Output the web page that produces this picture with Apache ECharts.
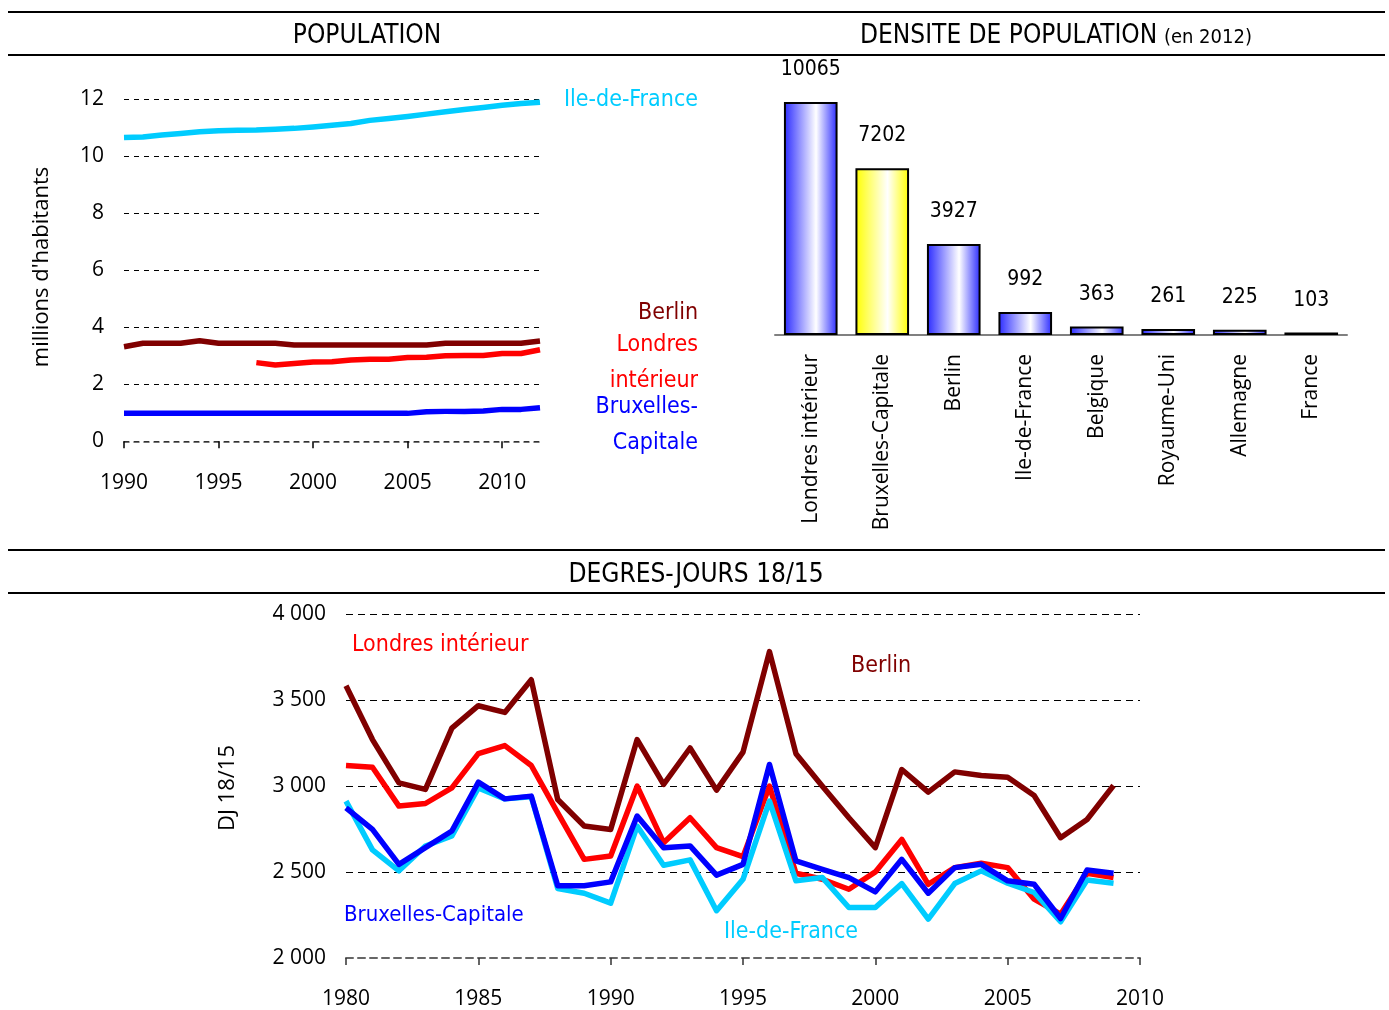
<!DOCTYPE html>
<html><head><meta charset="utf-8">
<script src="https://cdn.jsdelivr.net/npm/echarts@6/dist/echarts.min.js"></script>
<style>html,body{margin:0;padding:0;background:#fff}#c{width:1389px;height:1010px}</style>
</head><body><div id="c"></div>
<script>
// ---------- DATA ----------
const popYears = [1990,1991,1992,1993,1994,1995,1996,1997,1998,1999,2000,2001,2002,2003,2004,2005,2006,2007,2008,2009,2010,2011,2012];
const popIleDeFrance = [10.66,10.68,10.75,10.80,10.86,10.90,10.91,10.92,10.95,10.98,11.03,11.09,11.15,11.26,11.33,11.40,11.48,11.56,11.64,11.71,11.79,11.85,11.90];
const popBerlin      = [3.32,3.44,3.44,3.44,3.53,3.44,3.44,3.44,3.44,3.38,3.38,3.38,3.38,3.38,3.38,3.38,3.38,3.44,3.44,3.44,3.44,3.44,3.52];
const popLondres     = [null,null,null,null,null,null,null,2.76,2.68,2.73,2.78,2.79,2.85,2.88,2.88,2.94,2.95,3.00,3.01,3.01,3.08,3.08,3.21];
const popBruxelles   = [0.98,0.98,0.98,0.98,0.98,0.98,0.98,0.98,0.98,0.98,0.98,0.98,0.98,0.98,0.98,0.98,1.04,1.05,1.05,1.06,1.12,1.12,1.18];
const popTickYears = [1990,1995,2000,2005,2010];

const densCategories = ['Londres intérieur','Bruxelles-Capitale','Berlin','Ile-de-France','Belgique','Royaume-Uni','Allemagne','France'];
const densValues = [10065,7202,3927,992,363,261,225,103];

const djYears = [1980,1981,1982,1983,1984,1985,1986,1987,1988,1989,1990,1991,1992,1993,1994,1995,1996,1997,1998,1999,2000,2001,2002,2003,2004,2005,2006,2007,2008,2009];
const djBerlin      = [3584,3271,3019,2981,3338,3468,3429,3619,2922,2768,2748,3271,3010,3222,2977,3198,3783,3189,3000,2816,2642,3097,2965,3083,3062,3052,2946,2700,2806,3004];
const djLondres     = [3120,3110,2884,2899,2990,3189,3236,3120,2845,2574,2594,3000,2671,2816,2642,2590,3000,2493,2458,2400,2501,2690,2429,2526,2551,2526,2342,2255,2493,2468];
const djBruxelles   = [2874,2748,2545,2642,2739,3023,2926,2942,2420,2420,2443,2826,2642,2652,2482,2545,3126,2565,2516,2468,2385,2574,2377,2526,2545,2449,2429,2230,2512,2493];
const djIleDeFrance = [2913,2629,2507,2652,2710,2990,2926,2938,2404,2377,2319,2768,2540,2571,2275,2458,2913,2449,2468,2294,2294,2433,2226,2433,2507,2435,2381,2211,2454,2435];

// ---------- STYLE ----------
const FA = '"Open Sans","DejaVu Sans",sans-serif';
const FT = '"DejaVu Sans Condensed","DejaVu Sans",sans-serif';
const C_IDF = '#00CCFF', C_BER = '#800000', C_LON = '#FF0000', C_BRU = '#0000FF';

const pairs = (xs, ys) => xs.map((x, i) => [x, ys[i]]);
const lineSeries = (name, xIdx, data, color) => ({
  name, type: 'line', xAxisIndex: xIdx, yAxisIndex: xIdx, data, symbol: 'none',
  lineStyle: { color, width: 5.5, join: 'round' }, itemStyle: { color }, silent: true, z: 3
});
const grad = (c) => new echarts.graphic.LinearGradient(0, 0, 1, 0, [
  { offset: 0, color: c }, { offset: 0.6, color: '#ffffff' }, { offset: 1, color: c }
]);

const chart = echarts.init(document.getElementById('c'), null, { renderer: 'canvas' });

const hline = (y) => ({ type: 'line', shape: { x1: 8, y1: y, x2: 1385, y2: y }, style: { stroke: '#000', lineWidth: 2 } });
const txt = (x, y, text, color, align, size, font) => ({
  type: 'text', x, y, style: { text, fill: color, font: (size || 20) + 'px ' + (font || FT), align: align || 'left', verticalAlign: 'middle' }
});
const plain = v => String(v);

const option = {
  animation: false,
  backgroundColor: '#fff',
  grid: [
    { left: 124, top: 99.3, width: 416, height: 342 },
    { left: 775, top: 102, width: 572, height: 233 },
    { left: 346, top: 614.3, width: 794, height: 344.7 }
  ],
  xAxis: [
    { gridIndex: 0, type: 'value', min: 1990, max: 2012, interval: 5,
      axisLine: { show: true, lineStyle: { color: '#444', width: 1.5, type: [5, 5] } },
      axisTick: { show: true, length: 7, customValues: popTickYears, lineStyle: { color: '#000', width: 1.5 } },
      axisLabel: { customValues: popTickYears, formatter: plain, margin: 31, fontSize: 21, fontFamily: FA, color: '#000' },
      splitLine: { show: false } },
    { gridIndex: 1, type: 'category', data: densCategories,
      axisLine: { show: true, lineStyle: { color: '#808080', width: 2 } },
      axisTick: { show: false },
      axisLabel: { rotate: 90, margin: 19, fontSize: 21, fontFamily: FA, color: '#000', interval: 0 } },
    { gridIndex: 2, type: 'value', min: 1980, max: 2010, interval: 5,
      axisLine: { show: true, lineStyle: { color: '#666', width: 2, type: [7, 5] } },
      axisTick: { show: true, length: 7, lineStyle: { color: '#333', width: 1.5 } },
      axisLabel: { formatter: plain, margin: 31, fontSize: 21, fontFamily: FA, color: '#000' },
      splitLine: { show: false } }
  ],
  yAxis: [
    { gridIndex: 0, type: 'value', min: 0, max: 12, interval: 2,
      axisLine: { show: false }, axisTick: { show: false },
      axisLabel: { margin: 20, fontSize: 21, fontFamily: FA, color: '#000' },
      splitLine: { show: true, lineStyle: { color: '#000', width: 1, type: [5, 5] } } },
    { gridIndex: 1, type: 'value', min: 0, max: 10065, show: false, splitLine: { show: false } },
    { gridIndex: 2, type: 'value', min: 2000, max: 4000, interval: 500,
      axisLine: { show: false }, axisTick: { show: false },
      axisLabel: { margin: 20, fontSize: 21, fontFamily: FA, color: '#000',
        formatter: v => String(v).replace(/\B(?=(\d{3})+(?!\d))/g, ' ') },
      splitLine: { show: true, lineStyle: { color: '#000', width: 1, type: [7, 5] } } }
  ],
  series: [
    lineSeries('Ile-de-France', 0, pairs(popYears, popIleDeFrance), C_IDF),
    lineSeries('Berlin', 0, pairs(popYears, popBerlin), C_BER),
    lineSeries('Londres intérieur', 0, pairs(popYears, popLondres), C_LON),
    lineSeries('Bruxelles-Capitale', 0, pairs(popYears, popBruxelles), C_BRU),
    { type: 'bar', xAxisIndex: 1, yAxisIndex: 1, barWidth: '75%', silent: true,
      data: densValues.map((v, i) => ({ value: v,
        itemStyle: { color: grad(densCategories[i] === 'Bruxelles-Capitale' ? '#FFFF00' : '#2A2AFF'),
                     borderColor: '#000', borderWidth: 2 } })),
      label: { show: true, position: 'top', distance: 22, fontSize: 21, fontFamily: FT, color: '#000' } },
    lineSeries('Berlin DJ', 2, pairs(djYears, djBerlin), C_BER),
    lineSeries('Londres DJ', 2, pairs(djYears, djLondres), C_LON),
    lineSeries('Ile-de-France DJ', 2, pairs(djYears, djIleDeFrance), C_IDF),
    lineSeries('Bruxelles DJ', 2, pairs(djYears, djBruxelles), C_BRU)
  ],
  graphic: [
    hline(12), hline(55), hline(550), hline(593),
    txt(367, 36, 'POPULATION', '#000', 'center', 26),
    { type: 'text', x: 1056, y: 36, style: {
        text: '{a|DENSITE DE POPULATION}  {b|(en 2012)}', align: 'center', verticalAlign: 'middle',
        rich: { a: { fontSize: 26, fontFamily: FT, fill: '#000' }, b: { fontSize: 20, fontFamily: FT, fill: '#000', padding: [4, 0, 0, 0] } } } },
    txt(696, 575, 'DEGRES-JOURS 18/15', '#000', 'center', 26),
    // population labels
    txt(698, 100, 'Ile-de-France', C_IDF, 'right', 23),
    txt(698, 313, 'Berlin', C_BER, 'right', 23),
    txt(698, 345, 'Londres', C_LON, 'right', 23),
    txt(698, 381, 'intérieur', C_LON, 'right', 23),
    txt(698, 407, 'Bruxelles-', C_BRU, 'right', 23),
    txt(698, 443, 'Capitale', C_BRU, 'right', 23),
    // DJ labels
    txt(352, 645, 'Londres intérieur', C_LON, 'left', 23),
    txt(851, 666, 'Berlin', C_BER, 'left', 23),
    txt(344, 915, 'Bruxelles-Capitale', C_BRU, 'left', 22),
    txt(724, 932, 'Ile-de-France', C_IDF, 'left', 23),
    // axis names
    { type: 'text', x: 42, y: 267, rotation: Math.PI / 2,
      style: { text: "millions d'habitants", font: '22px ' + FA, fill: '#000', align: 'center', verticalAlign: 'middle' } },
    { type: 'text', x: 228, y: 788, rotation: Math.PI / 2,
      style: { text: 'DJ 18/15', font: '22px ' + FA, fill: '#000', align: 'center', verticalAlign: 'middle' } }
  ]
};
chart.setOption(option);
</script>
</body></html>
